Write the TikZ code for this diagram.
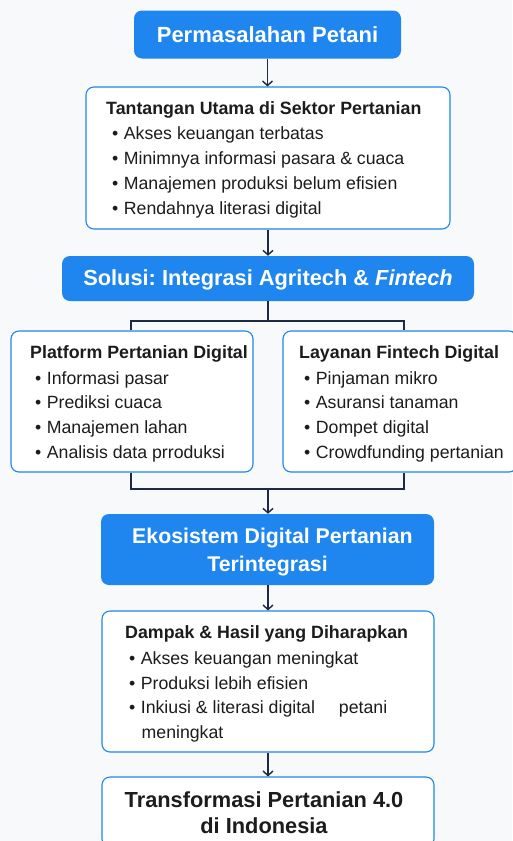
\documentclass[tikz,border=0pt]{standalone}
\usepackage{fontspec}
\setmainfont{Liberation Sans}
\usetikzlibrary{arrows.meta}
\definecolor{bg}{HTML}{F8F9FB}
\definecolor{blu}{HTML}{1E86EE}
\definecolor{nav}{HTML}{1E2A44}
\definecolor{txt}{HTML}{1C1C1C}
\frenchspacing
\begin{document}
\begin{tikzpicture}[x=1pt,y=-1pt,
  bluebox/.style={fill=blu, rounded corners=8pt, inner sep=0pt, text=white, font=\fontsize{21.8}{28}\selectfont\bfseries, align=center},
  bluetxt/.style={inner sep=0pt, text=white, font=\fontsize{21.8}{28}\selectfont\bfseries, align=center},
  whitebox/.style={draw=blu, line width=1.1pt, fill=white, rounded corners=8pt, inner sep=0pt},
  ttl/.style={anchor=west, inner sep=0pt, text height=15pt, text depth=2pt, text=txt, font=\fontsize{17.8}{20}\selectfont\bfseries},
  itm/.style={anchor=west, inner sep=0pt, text height=15pt, text depth=2pt, text=txt, font=\fontsize{17.7}{20}\selectfont},
  conn/.style={draw=nav, line width=1.4pt},
  arr/.style={conn, -{Straight Barb[length=4.5pt,width=10pt,line width=1.4pt]}}
]
\fill[bg] (0,0) rectangle (512,841);
\useasboundingbox (0,0) rectangle (512,841);

% box 1
\node[bluebox, font=\fontsize{22}{28}\selectfont\bfseries, minimum width=267pt, minimum height=48pt] (b1) at (267.5,34.5) {Permasalahan Petani};

% box 2
\node[whitebox, minimum width=364pt, minimum height=142pt] (b2) at (268,158) {};
\node[ttl] (b2t) at (106,108) {Tantangan Utama di Sektor Pertanian};
\foreach \t [count=\i] in {Akses keuangan terbatas, Minimnya informasi pasara \& cuaca, Manajemen produksi belum efisien, Rendahnya literasi digital}
  \node[itm] (b2i\i) at (112,{108+25*\i}) {•\hspace{5.5pt}\t};

% box 3
\node[bluebox, minimum width=412pt, minimum height=45pt] (b3) at (268,278.5) {};
\node[bluetxt] (b3t) at (268,280) {Solusi: Integrasi Agritech \& \textit{Fintech}};

% left box
\node[whitebox, minimum width=242pt, minimum height=141pt] (b4) at (132,401.5) {};
\node[ttl] (b4t) at (30,352) {Platform Pertanian Digital};
\foreach \t [count=\i] in {Informasi pasar, Prediksi cuaca, Manajemen lahan, Analisis data prroduksi}
  \node[itm] (b4i\i) at (35,{353+24.7*\i}) {•\hspace{5.5pt}\t};

% right box
\node[whitebox, minimum width=234pt, minimum height=141pt] (b5) at (400,401.5) {};
\node[ttl] (b5t) at (299,352) {Layanan Fintech Digital};
\foreach \t [count=\i] in {Pinjaman mikro, Asuransi tanaman, Dompet digital, Crowdfunding pertanian}
  \node[itm] (b5i\i) at (304,{353+24.7*\i}) {•\hspace{5.5pt}\t};

% box 6
\node[bluebox, minimum width=333pt, minimum height=71pt] (b6) at (267.5,549.5) {};
\node[bluetxt, font=\fontsize{21.3}{28}\selectfont\bfseries] (b6t) at (267.5,552.5) {\hspace{10pt}Ekosistem Digital Pertanian\\Terintegrasi};

% box 7
\node[whitebox, minimum width=332pt, minimum height=141pt] (b7) at (268,681.5) {};
\node[ttl] (b7t) at (125,632) {Dampak \& Hasil yang Diharapkan};
\node[itm] (b7i1) at (129,658) {•\hspace{5.5pt}Akses keuangan meningkat};
\node[itm] (b7i2) at (129,683) {•\hspace{5.5pt}Produksi lebih efisien};
\node[itm] (b7i3) at (129,707) {•\hspace{5.5pt}Inkiusi \& literasi digital\hspace{24pt}petani};
\node[itm] (b7i4) at (141.5,732) {meningkat};

% box 8
\node[whitebox, minimum width=332pt, minimum height=70pt] (b8) at (268,812) {};
\node[inner sep=0pt, text=txt, font=\fontsize{21.8}{26.5}\selectfont\bfseries, align=center] (b8t) at (264,812.5) {Transformasi Pertanian 4.0\\di Indonesia};

% connectors
\draw[arr] (b1.south) -- (b1.south |- b2.north);
\draw[arr] (b2.south) -- (b3.north);
\coordinate (jt) at (268,321);
\coordinate (tl) at (131,321);
\coordinate (tr) at (404,321);
\coordinate (bl) at (131,489);
\coordinate (br) at (404,489);
\coordinate (jb) at (268,489);
\draw[conn] (b3.south) -- (jt);
\draw[conn] (tl |- b4.north) -- (tl) -- (tr) -- (tr |- b5.north);
\draw[conn] (bl |- b4.south) -- (bl) -- (br) -- (br |- b5.south);
\draw[arr] (jb) -- (jb |- b6.north);
\draw[arr] (b6.south -| b7.north) -- (b7.north);
\draw[arr] (b7.south) -- (b8.north);
\end{tikzpicture}
\end{document}
